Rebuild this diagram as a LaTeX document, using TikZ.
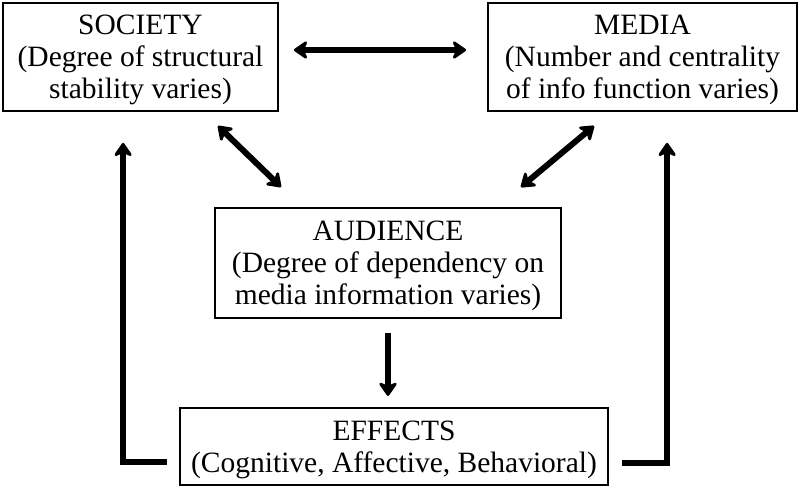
\documentclass[tikz,border=0pt]{standalone}
\usepackage{fontspec}
\setmainfont{Liberation Serif}
\usetikzlibrary{arrows.meta,calc}
\newcommand\tstrut{\rule{0pt}{26pt}}
\tikzset{
  box/.style={draw, line width=1.8pt, align=center, inner sep=0pt,
    font=\fontsize{29.5}{32}\selectfont},
  tip/.tip={Stealth[length=16pt,width=22pt,inset=5pt,round]},
  arr/.style={line width=6pt, line join=miter, -tip},
  dbl/.style={line width=6pt, tip-tip},
}
\begin{document}
\begin{tikzpicture}[x=1pt,y=-1pt]
\useasboundingbox (0,0) rectangle (800,487);
\node[box, minimum width=275pt, minimum height=108pt] (soc) at (140.5,57)
  {\tstrut SOCIETY\\(Degree of structural\\stability varies)};
\node[box, minimum width=309pt, minimum height=108pt] (med) at (642.5,57)
  {\tstrut MEDIA\\(Number and centrality\\of info function varies)};
\node[box, minimum width=346pt, minimum height=110pt] (aud) at (388,263)
  {\tstrut AUDIENCE\\(Degree of dependency on\\media information varies)};
\node[box, minimum width=428pt, minimum height=77pt] (eff) at (394,446.5)
  {\tstrut EFFECTS\\(Cognitive, Affective, Behavioral)};
% top double arrow
\draw[dbl, shorten <=15pt, shorten >=21pt] ([yshift=7pt]soc.east) -- ([yshift=7pt]med.west);
% diagonals
\draw[dbl] ($(soc.south east)+(-61,14)$) -- ($(aud.north west)+(67,-20)$);
\draw[dbl] ($(med.south west)+(107,14)$) -- ($(aud.north east)+(-41,-20)$);
% down arrow
\draw[arr, shorten <=14pt] (aud.south) -- ($(aud.south)+(0,77)$);
% feedback loops
\draw[arr] ($(eff.west)+(-12,15.5)$) -| ($(soc.south west)+(121,31)$);
\draw[arr] ($(eff.east)+(13,16.5)$) -| ($(med.south west)+(180,31)$);
\end{tikzpicture}
\end{document}
